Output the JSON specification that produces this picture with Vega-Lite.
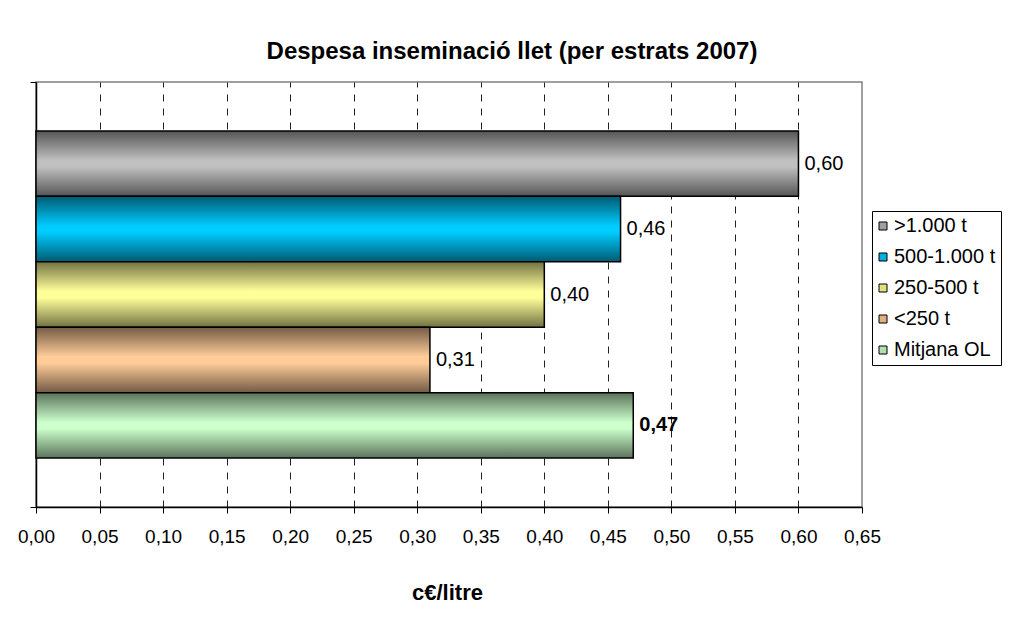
{
  "$schema": "https://vega.github.io/schema/vega-lite/v6.json",
  "width": 826,
  "height": 425,
  "autosize": {"type": "none"},
  "padding": {"left": 36, "top": 82, "right": 152, "bottom": 112},
  "background": "white",
  "config": {
    "locale": {"number": {"decimal": ",", "thousands": ".", "grouping": [3], "currency": ["", " €"]}},
    "font": "Liberation Sans",
    "view": {"stroke": "#808080", "strokeWidth": 1.5}
  },
  "title": {
    "text": "Despesa inseminació llet (per estrats 2007)",
    "fontSize": 24,
    "font": "Liberation Sans",
    "fontWeight": "bold",
    "color": "black",
    "anchor": "middle",
    "frame": "group",
    "dx": 63,
    "offset": 18
  },
  "data": {
    "values": [
      {"cat": "A", "series": ">1.000 t", "value": 0.60},
      {"cat": "A", "series": "500-1.000 t", "value": 0.46},
      {"cat": "A", "series": "250-500 t", "value": 0.40},
      {"cat": "A", "series": "<250 t", "value": 0.31},
      {"cat": "A", "series": "Mitjana OL", "value": 0.47}
    ]
  },
  "encoding": {
    "y": {
      "field": "cat",
      "type": "nominal",
      "scale": {"paddingInner": 0, "paddingOuter": 0},
      "axis": {
        "title": null,
        "labels": false,
        "grid": false,
        "domainColor": "black",
        "domainWidth": 1.5,
        "tickColor": "black",
        "tickSize": 6,
        "tickWidth": 1,
        "bandPosition": 1,
        "tickExtra": true
      }
    },
    "yOffset": {
      "field": "series",
      "type": "nominal",
      "sort": [">1.000 t", "500-1.000 t", "250-500 t", "<250 t", "Mitjana OL"],
      "scale": {"paddingInner": 0, "paddingOuter": 0.747}
    },
    "x": {
      "field": "value",
      "type": "quantitative",
      "scale": {"domain": [0, 0.65], "nice": false, "zero": true},
      "axis": {
        "values": [0, 0.05, 0.1, 0.15, 0.2, 0.25, 0.3, 0.35, 0.4, 0.45, 0.5, 0.55, 0.6, 0.65],
        "format": ".2f",
        "labelFlush": false,
        "labelOverlap": false,
        "grid": true,
        "gridColor": "#222222",
        "gridDash": [7, 7],
        "gridWidth": 1,
        "gridOpacity": {"condition": {"test": "datum.value >= 0.649 || datum.value <= 0.001", "value": 0}, "value": 1},
        "domainColor": "black",
        "domainWidth": 1.5,
        "tickColor": "black",
        "tickSize": 6,
        "tickWidth": 1,
        "labelFontSize": 19,
        "labelColor": "black",
        "labelPadding": 14,
        "title": "c€/litre",
        "titleFontSize": 22,
        "titleFontWeight": "bold",
        "titleColor": "black",
        "titleX": 411,
        "titleY": 92,
        "titleBaseline": "alphabetic"
      }
    }
  },
  "layer": [
    {
      "mark": {"type": "bar"},
      "encoding": {
        "color": {
          "field": "series",
          "type": "nominal",
          "scale": {
            "domain": [">1.000 t", "500-1.000 t", "250-500 t", "<250 t", "Mitjana OL"],
            "range": ["#a0a0a0", "#00b0e0", "#e0e080", "#e0b080", "#b0e0b0"]
          },
          "legend": {
            "title": null,
            "orient": "none",
            "legendX": 836,
            "legendY": 129,
            "strokeColor": "black",
            "fillColor": "white",
            "padding": 5,
            "symbolType": "square",
            "symbolSize": 64,
            "symbolStrokeColor": "black",
            "symbolStrokeWidth": 1,
            "symbolOpacity": 1,
            "symbolOffset": -4,
            "labelFontSize": 20,
            "labelColor": "black",
            "labelOffset": 1,
            "rowPadding": 11,
            "labelLimit": 200
          }
        }
      }
    },
    {
      "mark": {"type": "bar", "stroke": "black", "strokeWidth": 1.5},
      "encoding": {
        "fill": {
          "condition": [
            {"test": "datum.series === '>1.000 t'", "value": {"gradient": "linear", "x1": 0, "y1": 0, "x2": 0, "y2": 1, "stops": [{"offset": 0, "color": "#555555"}, {"offset": 0.45, "color": "#c0c0c0"}, {"offset": 0.55, "color": "#c0c0c0"}, {"offset": 1, "color": "#555555"}]}},
            {"test": "datum.series === '500-1.000 t'", "value": {"gradient": "linear", "x1": 0, "y1": 0, "x2": 0, "y2": 1, "stops": [{"offset": 0, "color": "#005a72"}, {"offset": 0.45, "color": "#00ccff"}, {"offset": 0.55, "color": "#00ccff"}, {"offset": 1, "color": "#005a72"}]}},
            {"test": "datum.series === '250-500 t'", "value": {"gradient": "linear", "x1": 0, "y1": 0, "x2": 0, "y2": 1, "stops": [{"offset": 0, "color": "#727244"}, {"offset": 0.45, "color": "#ffff99"}, {"offset": 0.55, "color": "#ffff99"}, {"offset": 1, "color": "#727244"}]}},
            {"test": "datum.series === '<250 t'", "value": {"gradient": "linear", "x1": 0, "y1": 0, "x2": 0, "y2": 1, "stops": [{"offset": 0, "color": "#725a44"}, {"offset": 0.45, "color": "#ffcc99"}, {"offset": 0.55, "color": "#ffcc99"}, {"offset": 1, "color": "#725a44"}]}}
          ],
          "value": {"gradient": "linear", "x1": 0, "y1": 0, "x2": 0, "y2": 1, "stops": [{"offset": 0, "color": "#5a725a"}, {"offset": 0.45, "color": "#ccffcc"}, {"offset": 0.55, "color": "#ccffcc"}, {"offset": 1, "color": "#5a725a"}]}
        }
      }
    },
    {
      "transform": [{"filter": "datum.series !== 'Mitjana OL'"}],
      "mark": {"type": "text", "align": "left", "baseline": "middle", "dx": 6, "fontSize": 20, "color": "black"},
      "encoding": {"text": {"field": "value", "type": "quantitative", "format": ".2f"}}
    },
    {
      "transform": [{"filter": "datum.series === 'Mitjana OL'"}],
      "mark": {"type": "text", "align": "left", "baseline": "middle", "dx": 6, "fontSize": 20, "fontWeight": "bold", "color": "black"},
      "encoding": {"text": {"field": "value", "type": "quantitative", "format": ".2f"}}
    }
  ]
}
